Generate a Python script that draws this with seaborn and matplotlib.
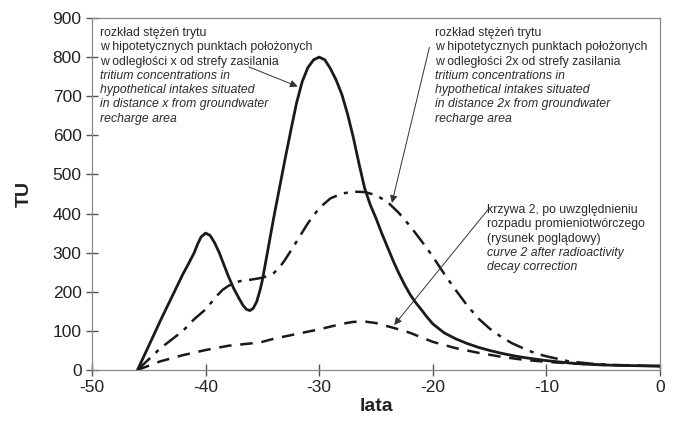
import matplotlib
matplotlib.use("Agg")
import matplotlib.pyplot as plt
import seaborn as sns

# krzywa 1 - odleglosc x (linia ciagla)
lata_1 = [-46, -45, -44, -43, -42, -41.5, -41, -40.7, -40.4, -40, -39.6, -39.2, -38.8, -38.4, -38,
          -37.5, -37, -36.7, -36.4, -36.1, -35.8, -35.5, -35.2, -35, -34.5, -34, -33.5, -33, -32.5,
          -32, -31.5, -31, -30.5, -30, -29.5, -29, -28.5, -28, -27.5, -27, -26.5, -26, -25.5, -25,
          -24.5, -24, -23.5, -23, -22.5, -22, -21.5, -21, -20.5, -20, -19, -18, -17, -16, -15,
          -14, -13, -12, -11, -10, -8, -6, -4, -2, 0]
tu_1 = [0, 62, 125, 185, 245, 272, 300, 322, 340, 350, 344, 325, 300, 270, 240,
        207, 180, 165, 155, 152, 158, 175, 205, 230, 310, 390, 465, 540, 612,
        682, 737, 773, 793, 800, 793, 770, 741, 704, 654, 595, 528, 465, 422, 388,
        350, 315, 280, 248, 219, 193, 172, 154, 135, 118, 95, 80, 68, 58, 50,
        43, 37, 32, 28, 24, 18, 14, 12, 11, 10]

# krzywa 2 - odleglosc 2x (kreska-kropka)
lata_2 = [-46, -44, -42, -41, -40, -39, -38.5, -38, -37.5, -37, -36, -35, -34.5, -34, -33.5, -33,
          -32.5, -32, -31, -30, -29, -28, -27, -26, -25, -24, -23, -22, -21, -20, -19, -18, -17,
          -16, -15, -14, -13, -12, -11, -10, -8, -6, -4, -2, 0]
tu_2 = [0, 55, 100, 130, 155, 190, 205, 215, 222, 227, 231, 236, 241, 248, 262, 282,
        305, 328, 375, 414, 439, 451, 456, 455, 447, 430, 402, 368, 330, 290, 246, 205, 166,
        132, 106, 85, 68, 55, 43, 35, 22, 16, 13, 11, 10]

# krzywa 2 po korekcie rozpadu (kreskowana)
lata_3 = [-46, -44, -42, -40, -38, -36, -35, -34, -32, -30, -28, -27, -26, -25, -24, -23, -22,
          -20, -18, -16, -14, -12, -10, -8, -5, -2, 0]
tu_3 = [0, 22, 38, 51, 62, 68, 72, 80, 92, 104, 118, 123, 124, 120, 112, 104, 95,
        72, 56, 44, 34, 26, 21, 17, 13, 11, 10]

x_ticks = [-50, -40, -30, -20, -10, 0]
y_ticks = [0, 100, 200, 300, 400, 500, 600, 700, 800, 900]

opis_1 = ["rozkład stężeń trytu", "w hipotetycznych punktach położonych",
          "w odległości x od strefy zasilania"]
opis_1_en = ["tritium concentrations in", "hypothetical intakes situated",
             "in distance x from groundwater", "recharge area"]
opis_2 = ["rozkład stężeń trytu", "w hipotetycznych punktach położonych",
          "w odległości 2x od strefy zasilania"]
opis_2_en = ["tritium concentrations in", "hypothetical intakes situated",
             "in distance 2x from groundwater", "recharge area"]
opis_3 = ["krzywa 2, po uwzględnieniu", "rozpadu promieniotwórczego", "(rysunek poglądowy)"]
opis_3_en = ["curve 2 after radioactivity", "decay correction"]

sns.set_style("white")
plt.rcParams['font.family'] = ['Liberation Sans', 'DejaVu Sans']
plt.rcParams['axes.unicode_minus'] = False
plt.rcParams['xtick.bottom'] = True
plt.rcParams['ytick.left'] = True

fig = plt.figure(figsize=(6.74, 4.30), dpi=100)
ax = fig.add_axes([92 / 674, 1 - 370 / 430, 568 / 674, 352 / 430])

sns.lineplot(x=lata_1, y=tu_1, ax=ax, color='#1a1a1a', linewidth=2.0)
sns.lineplot(x=lata_2, y=tu_2, ax=ax, color='#1a1a1a', linewidth=1.8, linestyle=(0, (7, 3, 1.6, 3)))
sns.lineplot(x=lata_3, y=tu_3, ax=ax, color='#1a1a1a', linewidth=1.8, linestyle=(0, (5, 3.5)))

ax.set_xlim(-50, 0)
ax.set_ylim(0, 900)
ax.set_xticks(x_ticks)
ax.set_yticks(y_ticks)
ax.tick_params(axis='both', bottom=True, left=True, direction='inout', length=9, width=1.0,
               color='#555555', labelsize=12.5, labelcolor='#222222', pad=3)
for s in ax.spines.values():
    s.set_color('#888888')
    s.set_linewidth(0.9)

ax.set_xlabel('lata', fontsize=14, fontweight='bold', color='#222222', labelpad=2)
ax.set_ylabel('TU', fontsize=14, fontweight='bold', color='#222222', labelpad=14)


def opis(xp, yp, pl, en):
    # xp, yp w pikselach figury (od lewej gory)
    step = 14.3
    for i, t in enumerate(pl + en):
        fig.text(xp / 674, 1 - (yp + i * step) / 430, t, fontsize=8.8, color='#2a2a2a',
                 style='italic' if i >= len(pl) else 'normal',
                 va='center', ha='left')


opis(100, 33, opis_1, opis_1_en)
opis(435, 33, opis_2, opis_2_en)
opis(487, 210, opis_3, opis_3_en)

strz = dict(arrowstyle='-|>', color='#333333', lw=0.7, mutation_scale=11, shrinkA=0, shrinkB=0)
ax.annotate('', xy=(-31.9, 725), xytext=(-36.2, 775), arrowprops=strz)
ax.annotate('', xy=(-23.6, 427), xytext=(-20.3, 825), arrowprops=strz)
ax.annotate('', xy=(-23.4, 115), xytext=(-15.0, 415), arrowprops=strz)

fig.savefig('out.png', dpi=100, facecolor='white')
